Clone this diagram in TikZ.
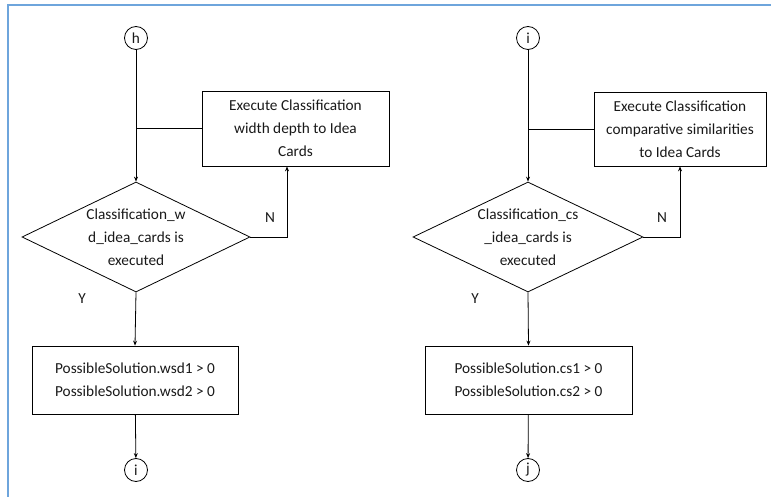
\documentclass[tikz,border=0pt]{standalone}
\usepackage{fontspec}
\setmainfont{Carlito}
\usetikzlibrary{shapes.geometric,arrows.meta}
\definecolor{frameblue}{RGB}{110,165,220}
\begin{document}
\begin{tikzpicture}[x=1pt,y=1pt,
  every node/.style={font=\fontsize{15.3}{23}\selectfont, text=black!90},
  conn/.style={draw, circle, line width=0.8pt, inner sep=0pt, minimum size=23pt},
  proc/.style={draw, rectangle, line width=0.8pt, align=center, inner sep=0pt},
  decision/.style={draw, diamond, line width=0.8pt, align=center, inner sep=0pt, aspect=2.07},
  flow/.style={line width=0.8pt, -{Stealth[length=5pt,width=4pt]}},
  link/.style={line width=0.8pt}]
  \useasboundingbox (0,0) rectangle (771,-497);
  % frame
  \draw[frameblue, line width=2pt] (8,-497) -- (8,-5) -- (771,-5);

  % left chart
  \node[conn] (h) at (136,-38) {h};
  \node[proc, minimum width=187pt, minimum height=75pt] (exwd) at (295.5,-128.5)
    {Execute Classification\\width depth to Idea\\Cards};
  \node[decision, minimum width=228pt, minimum height=110pt] (wdq) at (136,-237)
    {Classification\_w\\d\_idea\_cards is\\executed};
  \node[proc, minimum width=206pt, minimum height=68pt] (wdsol) at (135,-380)
    {PossibleSolution.wsd1 > 0\\PossibleSolution.wsd2 > 0};
  \node[conn] (i1) at (136,-470) {i};
  \node (wdn) at (270,-218) {N};
  \node (wdy) at (82,-299) {Y};

  \draw[flow] (h) -- (wdq);
  \draw[link] (exwd.west) -- (exwd.west -| h);
  \draw[flow] (wdq.east) -| ([xshift=-8.5pt]exwd.south);
  \draw[flow] (wdq.south) -- (wdsol.north);
  \draw[flow] (wdsol) -- (i1);

  % right chart
  \node[conn] (i2) at (528,-38) {i};
  \node[proc, minimum width=172pt, minimum height=74pt] (excs) at (680,-129)
    {Execute Classification\\comparative similarities\\to Idea Cards};
  \node[decision, minimum width=230pt, minimum height=110pt] (csq) at (528,-237)
    {Classification\_cs\\\_idea\_cards is\\executed};
  \node[proc, minimum width=207pt, minimum height=68pt] (cssol) at (528.5,-380)
    {PossibleSolution.cs1 > 0\\PossibleSolution.cs2 > 0};
  \node[conn] (j) at (528,-470) {j};
  \node (csn) at (662,-218) {N};
  \node (csy) at (475,-299) {Y};

  \draw[flow] (i2) -- (csq);
  \draw[link] (excs.west) -- (excs.west -| i2);
  \draw[flow] (csq.east) -| (excs.south);
  \draw[flow] (csq.south) -- (cssol.north);
  \draw[flow] (cssol) -- (j);
\end{tikzpicture}
\end{document}
